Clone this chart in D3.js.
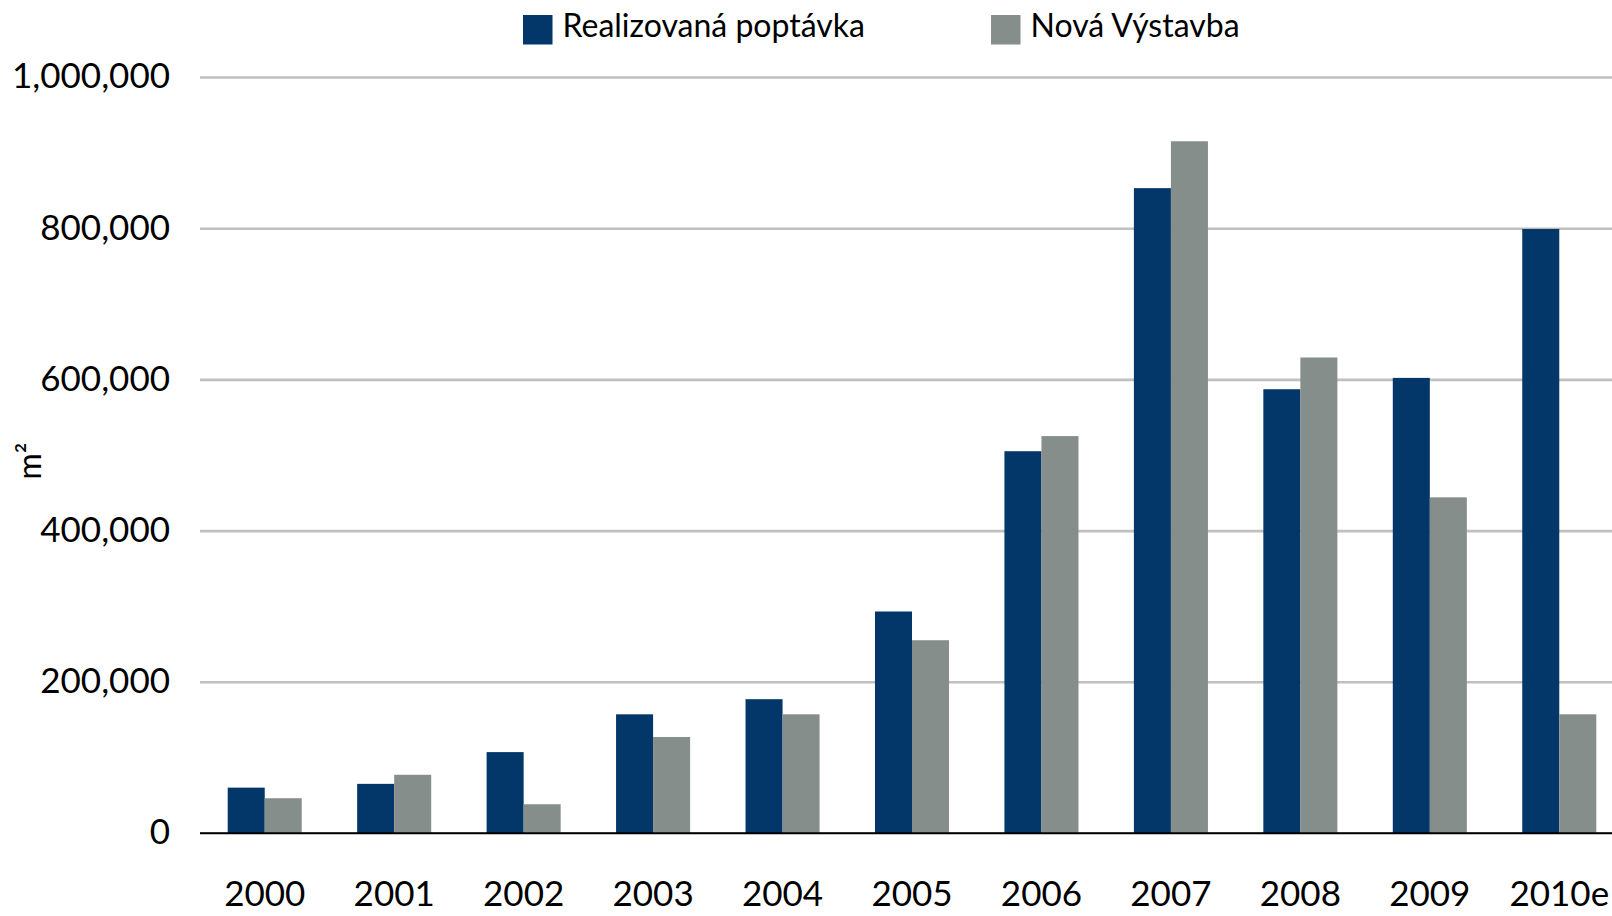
<!DOCTYPE html>
<html>
<head>
<meta charset="utf-8">
<script src="https://cdn.jsdelivr.net/npm/d3@7"></script>
<style>
  body { margin: 0; background: #fff; overflow: hidden; }
  text { font-family: Lato, 'Noto Sans', sans-serif; fill: #000; }
</style>
</head>
<body>
<svg id="chart"></svg>
<script>
// values (m2)
const years = ['2000', '2001', '2002', '2003', '2004', '2005', '2006', '2007', '2008', '2009', '2010e'];
const realizovana = [60000, 65000, 107000, 157000, 177000, 293000, 505000, 853000, 587000, 602000, 799000];
const novaVystavba = [46000, 77000, 38000, 127000, 157000, 255000, 525000, 915000, 629000, 444000, 157000];
const seriesNames = ['Realizovaná poptávka', 'Nová Výstavba'];
const seriesColors = ['#033669', '#868e8c'];
const yTicks = [0, 200000, 400000, 600000, 800000, 1000000];

class GroupedBars {

  constructor(_config) {
    this.config = {
      parentElement: _config.parentElement,
      containerWidth: _config.containerWidth || 1612,
      containerHeight: _config.containerHeight || 916,
      margin: _config.margin || {top: 77, right: -12, bottom: 83, left: 200}
    }
    this.initVis();
  }

  initVis() {
    let vis = this;

    vis.width = vis.config.containerWidth - vis.config.margin.left - vis.config.margin.right;
    vis.height = vis.config.containerHeight - vis.config.margin.top - vis.config.margin.bottom;

    vis.xScale = d3.scaleBand()
        .domain(years)
        .range([0, vis.width])
        .paddingInner(0.428)
        .paddingOuter(0.214);

    vis.xSub = d3.scaleBand()
        .domain(seriesNames)
        .range([0, vis.xScale.bandwidth()]);

    vis.yScale = d3.scaleLinear()
        .domain([0, 1000000])
        .range([vis.height, 0]);

    vis.colorScale = d3.scaleOrdinal()
        .domain(seriesNames)
        .range(seriesColors);

    vis.xAxis = d3.axisBottom(vis.xScale)
        .tickSize(0)
        .tickPadding(73);

    vis.yAxis = d3.axisLeft(vis.yScale)
        .tickValues(yTicks)
        .tickSize(-vis.width)
        .tickPadding(30)
        .tickFormat(d3.format(','));

    vis.svg = d3.select(vis.config.parentElement)
        .attr('width', vis.config.containerWidth)
        .attr('height', vis.config.containerHeight);

    vis.chart = vis.svg.append('g')
        .attr('transform', `translate(${vis.config.margin.left},${vis.config.margin.top})`);

    vis.yAxisG = vis.chart.append('g')
        .attr('class', 'axis y-axis');

    vis.barsG = vis.chart.append('g');

    vis.xAxisG = vis.chart.append('g')
        .attr('class', 'axis x-axis')
        .attr('transform', `translate(0,${vis.height})`);

    // y axis title m2
    vis.svg.append('text')
        .attr('transform', 'translate(41,461) rotate(-90)')
        .style('text-anchor', 'middle')
        .style('font-size', '32px')
        .text('m²');

    // legend
    const legend = vis.svg.append('g')
        .selectAll('g')
        .data(seriesNames)
      .join('g')
        .attr('transform', (d, i) => `translate(${[523, 991][i]},15)`);

    legend.append('rect')
        .attr('width', 29.5)
        .attr('height', 29.5)
        .attr('fill', d => vis.colorScale(d));

    legend.append('text')
        .attr('x', 39.5)
        .attr('y', 22)
        .style('font-size', '32px')
        .text(d => d);

    vis.renderVis();
  }

  renderVis() {
    let vis = this;

    vis.data = years.map((y, i) => ({
      year: y,
      values: [
        {key: seriesNames[0], value: realizovana[i]},
        {key: seriesNames[1], value: novaVystavba[i]}
      ]
    }));

    vis.yAxisG
        .call(vis.yAxis)
        .call(g => g.select('.domain').remove())
        .call(g => g.selectAll('.tick line')
            .attr('stroke', d => d === 0 ? '#000' : '#c0c0c0')
            .attr('stroke-width', d => d === 0 ? 1.6 : 2.6))
        .call(g => g.selectAll('.tick text')
            .attr('dy', '0.31em')
            .style('font-size', '35px'));

    vis.barsG.selectAll('.group')
        .data(vis.data)
      .join('g')
        .attr('class', 'group')
        .attr('transform', d => `translate(${vis.xScale(d.year)},0)`)
      .selectAll('rect')
        .data(d => d.values)
      .join('rect')
        .attr('x', d => vis.xSub(d.key))
        .attr('width', vis.xSub.bandwidth())
        .attr('y', d => vis.yScale(d.value))
        .attr('height', d => vis.height - vis.yScale(d.value))
        .attr('fill', d => vis.colorScale(d.key));

    vis.xAxisG
        .call(vis.xAxis)
        .call(g => g.select('.domain').remove())
        .call(g => g.selectAll('.tick text')
            .attr('dy', 0)
            .style('font-size', '35px'));

    // zero line on top of the bars
    vis.chart.append('line')
        .attr('x1', 0)
        .attr('x2', vis.width)
        .attr('y1', vis.yScale(0))
        .attr('y2', vis.yScale(0))
        .attr('stroke', '#000')
        .attr('stroke-width', 1.6);
  }
}

new GroupedBars({parentElement: '#chart'});
</script>
</body>
</html>
